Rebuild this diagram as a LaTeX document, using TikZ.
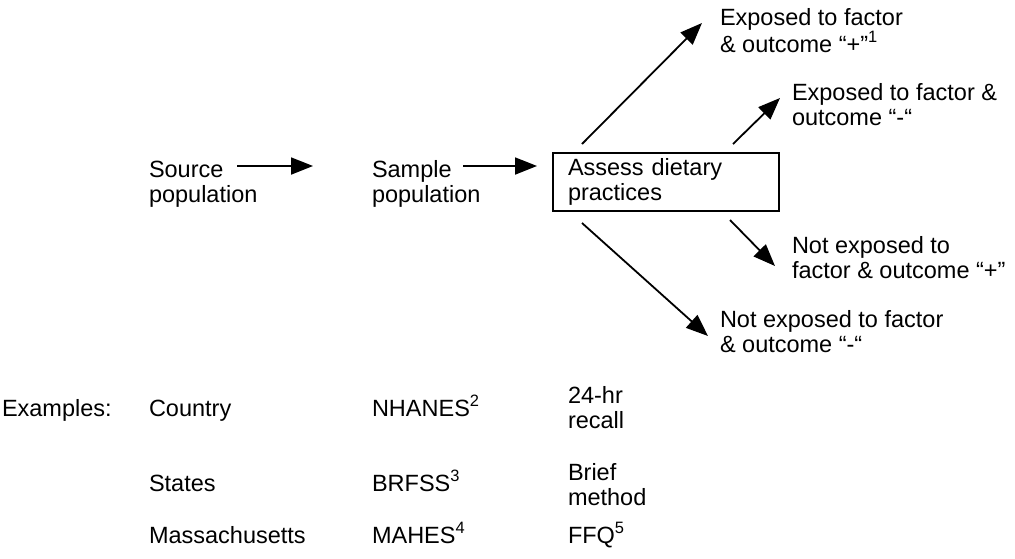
\documentclass[tikz,border=0pt]{standalone}
\usepackage{fontspec}
\setmainfont{Liberation Sans}
\usetikzlibrary{arrows.meta}

\begin{document}
\begin{tikzpicture}[
  x=1pt, y=-1pt,
  every node/.style={
    inner sep=0pt, outer sep=0pt,
    anchor=base west, align=left,
    font=\fontsize{23.5}{25}\selectfont,
  },
  flow/.style={line width=1.8pt, -{Triangle[length=22pt,width=17pt]}},
  assess/.style={
    draw, line width=1.2pt, anchor=north west,
    inner xsep=15pt, text width=196pt, minimum height=58pt,
  },
]

  \useasboundingbox (0,0) rectangle (1015,558);

  \node (source) at (149,202) {Source\\population};
  \node (sample) at (372,202) {Sample\\population};
  \node [assess] (assess) at (553,153) {Assess dietary\\practices};

  \node (expPos)   at (720,52)  {Exposed to factor\\\& outcome “+”\textsuperscript{1}};
  \node (expNeg)   at (792,125) {Exposed to factor \&\\outcome “-“};
  \node (unexpPos) at (792,278) {Not exposed to\\factor \& outcome “+”};
  \node (unexpNeg) at (720,352) {Not exposed to factor\\\& outcome “-“};

  \coordinate (sourceA) at (237,166);
  \coordinate (sourceB) at (313,166);
  \coordinate (sampleA) at (463,166);
  \coordinate (sampleB) at (537,166);
  \coordinate (expPosA) at (582,144);
  \coordinate (expPosB) at (702,23);
  \coordinate (expNegA) at (733,144);
  \coordinate (expNegB) at (780,98);
  \coordinate (unexpPosA) at (730,220);
  \coordinate (unexpPosB) at (775,266);
  \coordinate (unexpNegA) at (582,223);
  \coordinate (unexpNegB) at (708,336);

  \draw [flow] (sourceA) -- (sourceB);
  \draw [flow] (sampleA) -- (sampleB);
  \draw [flow] (expPosA) -- (expPosB);
  \draw [flow] (expNegA) -- (expNegB);
  \draw [flow] (unexpPosA) -- (unexpPosB);
  \draw [flow] (unexpNegA) -- (unexpNegB);

  \node (examples) at (2,416) {Examples:};

  \node (country) at (149,416) {Country};
  \node (nhanes)  at (372,416) {NHANES\textsuperscript{2}};
  \node (recall)  at (568,428) {24-hr\\recall};

  \node (states)  at (149,491) {States};
  \node (brfss)   at (372,491) {BRFSS\textsuperscript{3}};
  \node (brief)   at (568,505) {Brief\\method};

  \node (mass)    at (149,543) {Massachusetts};
  \node (mahes)   at (372,543) {MAHES\textsuperscript{4}};
  \node (ffq)     at (568,543) {FFQ\textsuperscript{5}};

\end{tikzpicture}
\end{document}
